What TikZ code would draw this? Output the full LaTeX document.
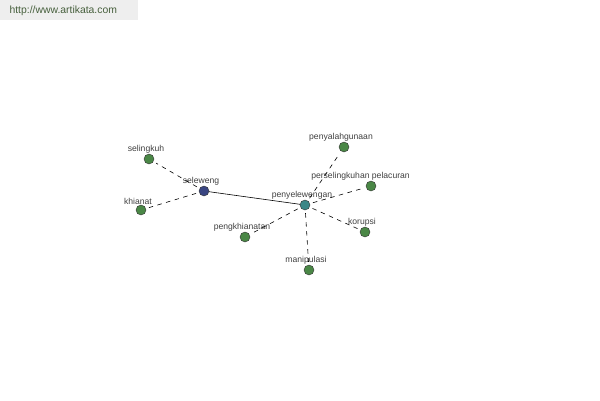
\documentclass[tikz,border=0pt]{standalone}
\usepackage{fontspec}
\setmainfont{Liberation Sans}
\usepackage{tikz}
\usetikzlibrary{positioning}
\definecolor{leafgreen}{RGB}{74,135,70}
\definecolor{rootblue}{RGB}{58,70,130}
\definecolor{hubteal}{RGB}{60,135,135}
\definecolor{markgray}{RGB}{238,238,238}
\definecolor{marktext}{RGB}{70,95,60}
\tikzset{
x=1pt, y=-1pt, % pixel-like units, y runs downward
word/.style={circle, draw=black!80, fill=leafgreen, inner sep=0pt, minimum size=10pt, thin}, % each word node
root/.style={word, fill=rootblue}, % the base word
hub/.style={word, fill=hubteal}, % the derived word
every label/.style={font=\fontsize{8.6}{9}\selectfont, text=black!75, inner sep=0.5pt, xshift=-3pt}, % word text
syn/.style={dash pattern=on 4.5pt off 4.5pt, line width=0.6pt, shorten <=3pt, shorten >=3pt}, % synonym link
der/.style={line width=0.6pt}, % derivation link
}

\begin{document}
\begin{tikzpicture}
        \useasboundingbox (0,0) rectangle (600,400);
        \fill[markgray] (0,0) rectangle (138,20);
        \node[anchor=west, font=\fontsize{10.4}{11}\selectfont, text=marktext] (site) at (6,11) {http://www.artikata.com};

        \node[root, label=above:seleweng] (seleweng) at (204,191) {};
        \node[hub, label=above:penyelewengan] (penyelewengan) at (305,205) {};
        \node[word, label=above:selingkuh] (selingkuh) at (149,159) {};
        \node[word, label=above:khianat] (khianat) at (141,210) {};
        \node[word, label=above:penyalahgunaan] (penyalahgunaan) at (344,147) {};
        \node[word, label={[xshift=-7.5pt]above:perselingkuhan pelacuran}] (pelacuran) at (371,186) {};
        \node[word, label=above:korupsi] (korupsi) at (365,232) {};
        \node[word, label=above:pengkhianatan] (pengkhianatan) at (245,237) {};
        \node[word, label=above:manipulasi] (manipulasi) at (309,270) {};

        \draw (seleweng) edge[der] (penyelewengan)
        (seleweng) edge[syn] (selingkuh)
        (seleweng) edge[syn] (khianat)
        (penyelewengan) edge[syn] (penyalahgunaan)
        (penyelewengan) edge[syn] (pelacuran)
        (penyelewengan) edge[syn] (korupsi)
        (penyelewengan) edge[syn] (pengkhianatan)
        (penyelewengan) edge[syn] (manipulasi);
      \end{tikzpicture}
\end{document}
